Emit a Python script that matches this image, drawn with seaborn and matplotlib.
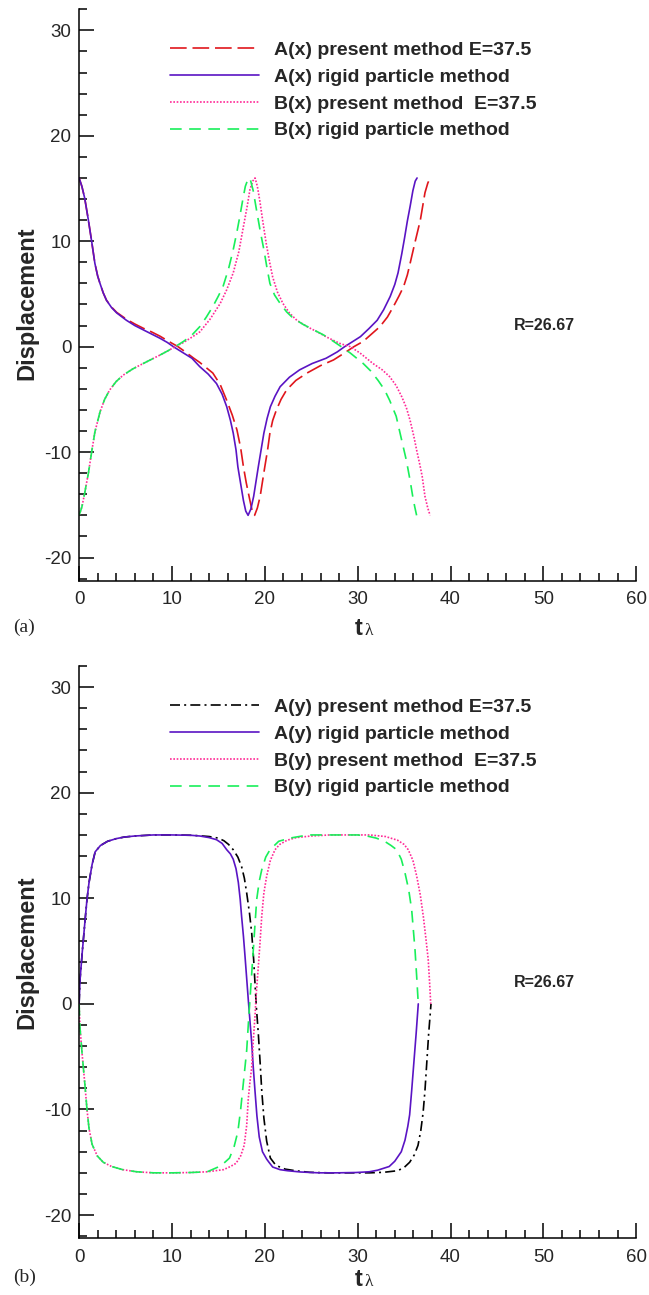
import matplotlib
matplotlib.use("Agg")
import matplotlib.pyplot as plt
from matplotlib.ticker import MultipleLocator
import pandas as pd
import seaborn as sns

# ---------------- panel (a): x displacement ----------------
ax_present_t = [0.0, 0.3, 0.6, 1.0, 1.35, 1.7, 2.0, 2.25, 2.6, 2.95, 3.5, 4.05, 5.1, 6.0, 6.9,
                7.8, 8.7, 9.65, 10.65, 11.45, 12.35, 13.0, 14.4, 15.2, 15.9, 16.5, 17.0, 17.4,
                17.7, 18.0, 18.4, 18.65, 18.9, 19.2, 19.5, 19.75, 20.0, 20.3, 20.55, 20.85,
                21.25, 21.75, 22.35, 23.35, 24.55, 26.0, 27.4, 28.4, 29.6, 30.6, 31.5, 32.4,
                33.2, 33.85, 34.45, 34.95, 35.35, 35.65, 36.15, 36.45, 36.75, 37.25, 37.55, 37.8]
ax_present_v = [16.0, 15.2, 14.1, 12.0, 10.0, 7.9, 6.7, 6.0, 5.1, 4.4, 3.75, 3.25, 2.6, 2.15, 1.75,
                1.4, 1.0, 0.5, 0.0, -0.5, -1.1, -1.5, -2.5, -3.6, -5.1, -6.5, -7.9, -9.6,
                -11.4, -12.9, -14.6, -15.6, -16.0, -15.3, -14.2, -12.8, -11.4, -9.8, -8.2, -7.0,
                -6.0, -5.0, -4.1, -3.2, -2.5, -1.8, -1.26, -0.7, 0.0, 0.5, 1.2, 1.9,
                2.8, 3.8, 4.8, 5.7, 6.8, 7.9, 9.8, 10.9, 12.0, 14.6, 15.5, 16.0]

ax_rigid_t = [0.0, 0.3, 0.6, 1.0, 1.35, 1.7, 2.0, 2.25, 2.6, 2.95, 3.5, 4.05, 5.1, 6.0, 6.9,
              7.8, 8.7, 9.5, 10.15, 11.15, 12.15, 13.0, 13.9, 14.8, 15.4, 15.9, 16.3, 16.6,
              16.9, 17.1, 17.4, 17.7, 17.95, 18.2, 18.5, 18.8, 19.05, 19.3, 19.6, 19.9,
              20.25, 20.6, 21.1, 21.65, 22.65, 23.75, 25.1, 26.6, 27.8, 28.6, 29.5, 30.3,
              31.2, 32.1, 32.8, 33.5, 34.0, 34.35, 34.75, 35.05, 35.35, 35.65, 35.95, 36.2, 36.4]
ax_rigid_v = [16.0, 15.2, 14.1, 12.0, 10.0, 7.9, 6.7, 6.0, 5.1, 4.4, 3.7, 3.2, 2.5, 2.0, 1.6,
              1.2, 0.8, 0.4, 0.0, -0.55, -1.1, -1.9, -2.6, -3.5, -4.5, -5.7, -7.0, -8.2,
              -9.8, -11.4, -13.0, -14.6, -15.6, -16.0, -15.4, -14.2, -12.8, -11.4, -9.8, -8.2,
              -6.8, -5.7, -4.7, -3.8, -2.9, -2.2, -1.6, -1.1, -0.5, 0.0, 0.5, 0.95,
              1.7, 2.5, 3.5, 4.75, 5.9, 7.0, 8.8, 10.3, 11.9, 13.3, 14.8, 15.7, 16.0]

bx_present_t = [0.0, 0.3, 0.6, 1.0, 1.35, 1.7, 2.25, 2.75, 3.3, 4.0, 4.75, 5.8, 6.9, 7.8, 8.7,
                9.55, 10.35, 11.25, 12.15, 13.0, 14.1, 15.2, 15.9, 16.6, 17.2, 17.7, 18.1,
                18.4, 18.7, 18.95, 19.2, 19.45, 19.8, 20.15, 20.5, 20.85, 21.35, 21.95, 22.65,
                23.45, 24.55, 25.65, 26.8, 28.1, 29.2, 30.25, 31.65, 32.65, 33.45, 34.15,
                34.75, 35.25, 35.65, 36.05, 36.35, 36.65, 36.95, 37.25, 37.55, 37.8]
bx_present_v = [-16.0, -15.2, -13.9, -12.0, -10.0, -8.1, -6.2, -5.0, -4.1, -3.3, -2.7, -2.1, -1.6, -1.2, -0.8,
                -0.4, 0.0, 0.4, 0.9, 1.4, 2.6, 4.1, 5.4, 7.0, 9.0, 11.4, 13.3,
                14.9, 15.7, 16.0, 15.2, 13.9, 11.8, 9.8, 8.1, 6.6, 5.2, 4.1, 3.2,
                2.5, 1.9, 1.4, 0.85, 0.3, 0.0, -0.6, -1.6, -2.2, -2.85, -3.7,
                -4.75, -5.8, -7.0, -8.5, -9.8, -11.0, -12.3, -14.2, -15.3, -16.0]

bx_rigid_t = [0.0, 0.3, 0.6, 1.0, 1.35, 1.7, 2.25, 2.75, 3.3, 4.0, 4.75, 5.8, 6.9, 7.8, 8.7,
              9.55, 10.35, 11.25, 12.15, 13.0, 13.7, 14.4, 15.0, 15.5, 16.1, 16.6, 17.0, 17.3,
              17.6, 17.9, 18.15, 18.4, 18.75, 19.1, 19.5, 19.9, 20.25, 20.55, 21.05, 21.65,
              22.35, 23.05, 24.15, 25.25, 26.35, 27.4, 28.4, 29.2, 29.9, 30.6, 31.4, 32.2,
              32.9, 33.45, 34.15, 34.75, 35.25, 35.65, 35.95, 36.15, 36.35]
bx_rigid_v = [-16.0, -15.2, -13.9, -12.0, -10.0, -8.1, -6.2, -5.0, -4.1, -3.3, -2.7, -2.1, -1.6, -1.2, -0.8,
              -0.4, 0.0, 0.5, 1.1, 1.9, 2.8, 3.8, 4.8, 5.7, 7.4, 9.2, 10.9, 12.3,
              13.8, 15.2, 15.8, 16.0, 14.8, 13.0, 11.0, 9.2, 7.4, 6.0, 4.9, 4.1,
              3.3, 2.7, 2.1, 1.6, 1.1, 0.5, -0.1, -0.6, -1.1, -1.6, -2.3, -3.2,
              -4.1, -5.1, -6.6, -8.9, -10.8, -12.7, -14.3, -15.2, -16.0]

# ---------------- panel (b): y displacement ----------------
ay_present_t = [0.0, 0.1, 0.35, 0.62, 0.85, 1.07, 1.4, 1.73, 2.3, 3.07, 4.0, 4.86, 6.0, 8.0, 10.0,
                12.0, 13.0, 14.0, 15.0, 15.6, 16.1, 16.6, 17.1, 17.5, 17.8, 18.05, 18.35,
                18.59, 18.8, 18.94, 19.1, 19.3, 19.5, 19.67, 19.9, 20.2, 20.6, 21.2, 22.2,
                23.3, 24.8, 26.8, 31.3, 32.8, 34.3, 35.0, 35.6, 36.1, 36.5, 36.8, 37.05,
                37.25, 37.45, 37.65, 37.9]
ay_present_v = [0.0, 2.3, 5.0, 7.7, 9.9, 11.5, 13.2, 14.4, 15.0, 15.4, 15.65, 15.8, 15.9, 16.0, 16.0,
                15.97, 15.92, 15.85, 15.7, 15.45, 15.1, 14.6, 13.9, 13.0, 11.9, 10.5, 8.6,
                6.7, 4.2, 2.0, -0.4, -2.8, -5.6, -8.2, -10.8, -13.0, -14.6, -15.3, -15.65,
                -15.8, -15.95, -16.0, -16.0, -15.95, -15.8, -15.5, -15.0, -14.3, -13.4, -12.0, -10.3,
                -8.2, -5.5, -2.8, 0.0]

ay_rigid_t = [0.0, 0.1, 0.35, 0.62, 0.85, 1.07, 1.4, 1.73, 2.3, 3.07, 4.0, 4.86, 6.0, 8.0, 10.0,
              12.0, 13.0, 14.0, 14.8, 15.4, 15.9, 16.3, 16.6, 16.9, 17.15, 17.35, 17.5,
              17.7, 17.87, 18.05, 18.22, 18.4, 18.59, 18.75, 18.94, 19.15, 19.4, 19.75, 20.2,
              20.45, 20.85, 21.65, 22.45, 23.85, 25.8, 27.8, 29.8, 31.25, 32.15, 33.4, 34.0,
              34.7, 35.1, 35.4, 35.6, 35.82, 36.05, 36.3, 36.53]
ay_rigid_v = [0.0, 2.3, 5.0, 7.7, 9.9, 11.5, 13.2, 14.4, 15.0, 15.4, 15.65, 15.8, 15.9, 16.0, 16.0,
              15.97, 15.9, 15.75, 15.55, 15.2, 14.6, 14.2, 13.7, 12.8, 11.5, 9.9, 8.3,
              6.4, 4.5, 2.4, 0.4, -1.6, -3.7, -5.9, -8.2, -10.6, -12.6, -14.0, -14.7,
              -15.0, -15.45, -15.7, -15.8, -15.92, -16.0, -16.0, -15.97, -15.9, -15.75, -15.4, -14.9,
              -14.0, -12.9, -11.6, -10.5, -8.2, -5.6, -2.8, 0.0]

by_present_t = [0.0, 0.1, 0.35, 0.62, 0.85, 1.07, 1.4, 1.96, 2.6, 3.5, 4.7, 6.2, 8.0, 10.2,
                12.0, 13.8, 15.55, 16.3, 16.9, 17.4, 17.78, 18.05, 18.22, 18.4, 18.59, 18.75,
                18.94, 19.1, 19.3, 19.5, 19.67, 19.9, 20.2, 20.6, 21.1, 21.6, 22.4, 23.4,
                25.0, 27.0, 31.3, 33.0, 34.3, 35.0, 35.45, 35.95, 36.36, 36.75, 37.07, 37.35,
                37.6, 37.75, 37.87]
by_present_v = [0.0, -2.3, -5.0, -7.6, -10.0, -11.8, -13.3, -14.4, -15.0, -15.4, -15.7, -15.9, -16.0, -16.0,
                -15.97, -15.9, -15.7, -15.4, -15.1, -14.4, -13.4, -11.5, -9.0, -7.4, -6.0, -3.6,
                -1.2, 1.2, 3.5, 6.0, 8.3, 10.5, 12.1, 13.6, 14.6, 15.1, 15.5, 15.75,
                15.9, 16.0, 16.0, 15.85, 15.5, 15.1, 14.6, 13.6, 12.1, 10.3, 8.3, 6.2,
                4.2, 2.0, 0.0]

by_rigid_t = [0.0, 0.1, 0.35, 0.62, 0.85, 1.07, 1.4, 1.96, 2.6, 3.5, 4.7, 6.2, 8.0, 10.2,
              12.0, 13.8, 15.1, 15.7, 16.2, 16.7, 17.1, 17.4, 17.69, 18.05, 18.22, 18.4,
              18.76, 18.95, 19.13, 19.4, 19.67, 20.1, 20.56, 21.5, 22.7, 24.7, 30.0, 31.0,
              32.0, 32.9, 33.6, 34.2, 34.7, 35.1, 35.5, 35.82, 36.0, 36.18, 36.35, 36.53]
by_rigid_v = [0.0, -2.3, -5.0, -7.6, -10.0, -11.8, -13.3, -14.4, -15.0, -15.4, -15.7, -15.9, -16.0, -16.0,
              -15.97, -15.9, -15.4, -15.0, -14.6, -13.5, -12.1, -10.0, -7.5, -4.4, -2.0, 0.4,
              5.1, 7.6, 9.9, 11.6, 12.7, 13.9, 14.6, 15.4, 15.7, 16.0, 16.0, 15.9,
              15.7, 15.4, 15.0, 14.6, 13.7, 12.4, 10.8, 8.9, 7.0, 5.1, 2.7, 0.0]

labels_a = ["A(x) present method E=37.5", "A(x) rigid particle method",
            "B(x) present method  E=37.5", "B(x) rigid particle method"]
labels_b = ["A(y) present method E=37.5", "A(y) rigid particle method",
            "B(y) present method  E=37.5", "B(y) rigid particle method"]
x_ticks = [0, 10, 20, 30, 40, 50, 60]
y_ticks = [-20, -10, 0, 10, 20, 30]
r_note = "R=26.67"

# ---------------- styling ----------------
sns.set_style("ticks")
plt.rcParams["font.family"] = ["Liberation Sans", "DejaVu Sans"]
plt.rcParams["axes.unicode_minus"] = False
plt.rcParams["axes.linewidth"] = 1.1
plt.rcParams["axes.edgecolor"] = "black"

PURPLE = "#5a14c4"
RED = "#e0161c"
PINK = "#ff2a96"
GREEN = "#19ef5a"
BLACK = "#000000"

LS_SOLID = "-"
LS_RED = (0, (10, 3.5))
LS_GREEN = (0, (7, 4.5))
LS_DOT = (0, (1, 1))
LS_DASHDOT = (0, (6, 2.5, 1.2, 2.5))

W, H = 649, 1295
fig = plt.figure(figsize=(W / 100, H / 100), dpi=100)
ax_a = fig.add_axes([79.1 / W, 1 - 580.7 / H, 557.1 / W, 571.4 / H])
ax_b = fig.add_axes([79.1 / W, 1 - 1238.3 / H, 557.1 / W, 572.3 / H])


def add_curve(ax, t, v, color, ls, lw=1.2):
    df = pd.DataFrame({"t": t, "v": v})
    sns.lineplot(data=df, x="t", y="v", ax=ax, color=color, linewidth=lw,
                 linestyle=ls, sort=False, estimator=None)
    return ax.lines[-1]


def style_axes(ax):
    ax.set_xlim(0, 60)
    ax.set_ylim(-22.2, 32.0)
    ax.set_xticks(x_ticks)
    ax.set_yticks(y_ticks)
    ax.xaxis.set_minor_locator(MultipleLocator(2))
    ax.yaxis.set_minor_locator(MultipleLocator(2))
    ax.tick_params(which="both", direction="in", width=1.1, color="black",
                   top=False, right=False)
    ax.tick_params(which="major", length=10.5)
    ax.tick_params(which="minor", length=6)
    ax.tick_params(axis="x", which="major", pad=7.5, labelsize=13.5)
    ax.tick_params(axis="y", which="major", pad=5.5, labelsize=13.5)
    sns.despine(ax=ax)
    ax.set_xlabel("")
    ax.set_ylabel("")


legend_kw = dict(loc="upper left", frameon=False,
                 prop={"family": "Liberation Sans", "weight": "bold", "size": 14},
                 handlelength=4.58, handletextpad=0.79, labelspacing=0.48,
                 borderpad=0, borderaxespad=0)

# panel (a)
h1 = add_curve(ax_a, ax_present_t, ax_present_v, RED, LS_RED)
h2 = add_curve(ax_a, ax_rigid_t, ax_rigid_v, PURPLE, LS_SOLID)
h3 = add_curve(ax_a, bx_present_t, bx_present_v, PINK, LS_DOT)
h4 = add_curve(ax_a, bx_rigid_t, bx_rigid_v, GREEN, LS_GREEN)
style_axes(ax_a)
ax_a.legend([h1, h2, h3, h4], labels_a, bbox_to_anchor=(0.1626, 0.9445), **legend_kw)
ax_a.text(46.8, 2.0, r_note, fontsize=11.5, fontweight="bold", ha="left", va="center")

# panel (b)
g1 = add_curve(ax_b, ay_present_t, ay_present_v, BLACK, LS_DASHDOT)
g2 = add_curve(ax_b, ay_rigid_t, ay_rigid_v, PURPLE, LS_SOLID)
g3 = add_curve(ax_b, by_present_t, by_present_v, PINK, LS_DOT)
g4 = add_curve(ax_b, by_rigid_t, by_rigid_v, GREEN, LS_GREEN)
style_axes(ax_b)
ax_b.legend([g1, g2, g3, g4], labels_b, bbox_to_anchor=(0.1626, 0.944), **legend_kw)
ax_b.text(46.8, 2.0, r_note, fontsize=11.5, fontweight="bold", ha="left", va="center")

# axis titles and panel tags
for y_mid, y_base, tag, y_tag in [(303, 635, "(a)", 627), (952, 1286, "(b)", 1277)]:
    fig.text(27 / W, 1 - y_mid / H, "Displacement", rotation=90, ha="center", va="center",
             fontsize=17, fontweight="bold")
    fig.text(355 / W, 1 - y_base / H, "t", ha="left", va="baseline",
             fontsize=17, fontweight="bold")
    fig.text(364.5 / W, 1 - y_base / H, "λ", ha="left", va="baseline",
             fontsize=12.5, family=["Liberation Serif", "DejaVu Serif"])
    fig.text(24.4 / W, 1 - y_tag / H, tag, ha="center", va="center",
             fontsize=14, family=["Liberation Serif", "DejaVu Serif"])

fig.savefig("out.png", dpi=100, facecolor="white")
